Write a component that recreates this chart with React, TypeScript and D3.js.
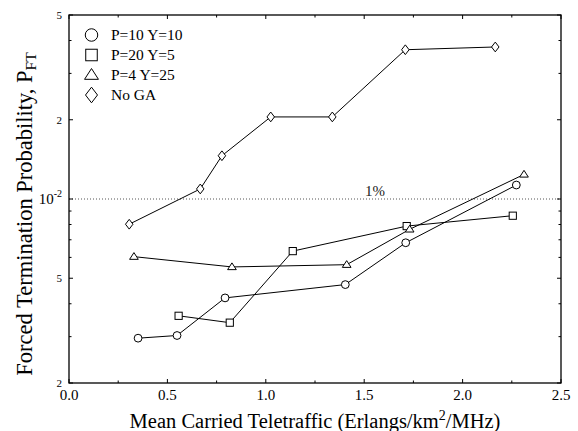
import React from "react";
import * as d3 from "d3";

const circleX = [0.351, 0.549, 0.793, 1.404, 1.711, 2.273];
const circleY = [0.00296, 0.00303, 0.00421, 0.00473, 0.00682, 0.0113];
const squareX = [0.557, 0.817, 1.137, 1.716, 2.255];
const squareY = [0.0036, 0.00339, 0.00634, 0.00789, 0.00864];
const triangleX = [0.33, 0.828, 1.411, 1.731, 2.312];
const triangleY = [0.00604, 0.00552, 0.00563, 0.00767, 0.0124];
const diamondX = [0.306, 0.667, 0.777, 1.025, 1.338, 1.709, 2.166];
const diamondY = [0.00802, 0.01092, 0.0146, 0.0205, 0.0205, 0.0369, 0.0378];

const seriesNames = ["P=10 Y=10", "P=20 Y=5", "P=4 Y=25", "No GA"];
const xTicks = [0, 0.5, 1.0, 1.5, 2.0, 2.5];
const xMinorTicks = [0.25, 0.75, 1.25, 1.75, 2.25];
const yMajorTicks = [0.002, 0.005, 0.01, 0.02, 0.05];
const yMajorLabels = ["2", "5", "10", "2", "5"];
const yMinorTicks = [0.003, 0.004, 0.006, 0.007, 0.008, 0.009, 0.03, 0.04];
const refLevel = 0.01;
const refLabel = "1%";

const W = 578, H = 431;
const L = 69, R = 561, T = 15, B = 383;
const FONT = "'Liberation Serif', 'Times New Roman', serif";

function Marker({ kind, x, y, s }: { kind: string; x: number; y: number; s: number }) {
  const st = { fill: "#fff", stroke: "#000", strokeWidth: 1 };
  if (kind === "circle") return <circle cx={x} cy={y} r={s * 0.52} {...st} />;
  if (kind === "square") return <rect x={x - s * 0.48} y={y - s * 0.48} width={s * 0.96} height={s * 0.96} {...st} />;
  if (kind === "triangle") {
    const h = s * 0.9;
    return <path d={`M${x},${y - h * 0.6}L${x + s * 0.58},${y + h * 0.4}L${x - s * 0.58},${y + h * 0.4}Z`} {...st} />;
  }
  return <path d={`M${x},${y - s * 0.65}L${x + s * 0.5},${y}L${x},${y + s * 0.65}L${x - s * 0.5},${y}Z`} {...st} />;
}

export default function App() {
  const x = d3.scaleLinear().domain([0, 2.5]).range([L, R]);
  const y = d3.scaleLog().domain([0.002, 0.05]).range([B, T]);
  const series = [
    { kind: "circle", xs: circleX, ys: circleY },
    { kind: "square", xs: squareX, ys: squareY },
    { kind: "triangle", xs: triangleX, ys: triangleY },
    { kind: "diamond", xs: diamondX, ys: diamondY },
  ];
  const line = d3.line<[number, number]>().x((d) => x(d[0])).y((d) => y(d[1]));
  return (
    <svg width={W} height={H} style={{ position: "absolute", left: 0, top: 0, background: "#fff" }} fontFamily={FONT}>
      <rect x={0} y={0} width={W} height={H} fill="#fff" />
      <line x1={L} x2={R} y1={y(refLevel)} y2={y(refLevel)} stroke="#555" strokeWidth={1} strokeDasharray="1,2" />
      <text x={375} y={y(refLevel) - 3} fontSize={15} textAnchor="middle" fill="#222">{refLabel}</text>
      {series.map((s, i) => (
        <g key={i}>
          <path d={line(s.xs.map((v, j) => [v, s.ys[j]] as [number, number])) || ""} fill="none" stroke="#000" strokeWidth={1} />
          {s.xs.map((v, j) => (
            <Marker key={j} kind={s.kind} x={x(v)} y={y(s.ys[j])} s={7.5} />
          ))}
        </g>
      ))}
      <rect x={L} y={T} width={R - L} height={B - T} fill="none" stroke="#000" strokeWidth={1.3} />
      {xTicks.map((t, i) => (
        <g key={"xt" + i}>
          <line x1={x(t)} x2={x(t)} y1={B} y2={B - 4} stroke="#000" />
          <line x1={x(t)} x2={x(t)} y1={T} y2={T + 4} stroke="#000" />
          <text x={x(t)} y={B + 17} fontSize={15} textAnchor="middle">{d3.format(".1f")(t)}</text>
        </g>
      ))}
      {xMinorTicks.map((t, i) => (
        <g key={"xm" + i}>
          <line x1={x(t)} x2={x(t)} y1={B} y2={B - 2.5} stroke="#000" />
          <line x1={x(t)} x2={x(t)} y1={T} y2={T + 2.5} stroke="#000" />
        </g>
      ))}
      {yMajorTicks.map((t, i) => (
        <g key={"yt" + i}>
          <line x1={L} x2={L + 4} y1={y(t)} y2={y(t)} stroke="#000" />
          <line x1={R} x2={R - 4} y1={y(t)} y2={y(t)} stroke="#000" />
          {yMajorLabels[i] === "10" ? (
            <text x={62} y={y(t) + 5} fontSize={15} textAnchor="end">
              10<tspan fontSize={10} dy={-7}>-2</tspan>
            </text>
          ) : (
            <text x={62} y={y(t) + 4} fontSize={11} textAnchor="end">{yMajorLabels[i]}</text>
          )}
        </g>
      ))}
      {yMinorTicks.map((t, i) => (
        <g key={"ym" + i}>
          <line x1={L} x2={L + 2.5} y1={y(t)} y2={y(t)} stroke="#000" />
          <line x1={R} x2={R - 2.5} y1={y(t)} y2={y(t)} stroke="#000" />
        </g>
      ))}
      {series.map((s, i) => (
        <g key={"lg" + i}>
          <Marker kind={s.kind} x={91.5} y={35 + i * 20} s={12} />
          <text x={111} y={35 + i * 20 + 5} fontSize={15.5}>{seriesNames[i]}</text>
        </g>
      ))}
      <text x={315} y={428} fontSize={20.5} textAnchor="middle">
        Mean Carried Teletraffic (Erlangs/km<tspan fontSize={14} dy={-8}>2</tspan><tspan dy={8}>/MHz)</tspan>
      </text>
      <text transform={`translate(32,214) rotate(-90)`} fontSize={22.5} textAnchor="middle">
        Forced Termination Probability, P<tspan fontSize={15.5} dy={4}>FT</tspan>
      </text>
    </svg>
  );
}
